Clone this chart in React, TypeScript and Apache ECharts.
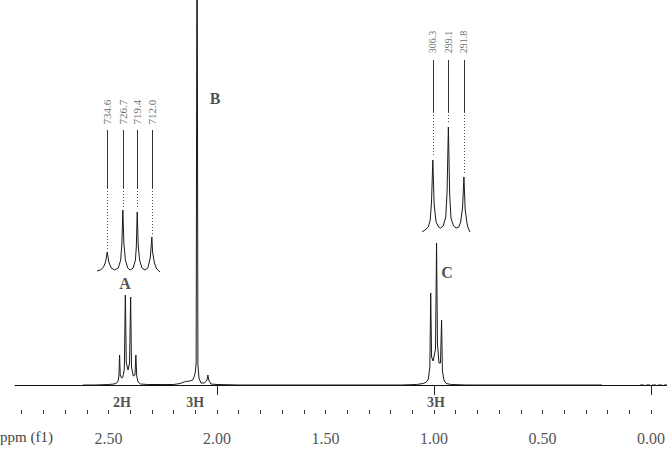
import { useEffect, useRef } from "react";
import * as echarts from "echarts";

// Main 1H spectrum trace: [ppm, intensity]
const spectrum: [number, number][] = [
  [2.618, 0], [2.56, 0], [2.5, 0.5], [2.475, 1], [2.462, 2], [2.456, 4], [2.452, 9],
  [2.449, 30], [2.446, 10], [2.44, 7], [2.434, 8], [2.427, 16], [2.4225, 90], [2.418, 22],
  [2.41, 15], [2.403, 22], [2.398, 88], [2.394, 18], [2.386, 9], [2.378, 10], [2.374, 30],
  [2.37, 9], [2.364, 3], [2.352, 1], [2.32, 0.5], [2.25, 0.5], [2.2, 0.5], [2.17, 1.5],
  [2.145, 3.5], [2.125, 4], [2.112, 5], [2.104, 9], [2.1, 13], [2.096, 22], [2.092, 520],
  [2.088, 20], [2.083, 7], [2.074, 2], [2.058, 2], [2.046, 5], [2.042, 10], [2.038, 5],
  [2.028, 1], [2.0, 0.5], [1.9, 0], [1.5, 0], [1.15, 0], [1.08, 0.5], [1.05, 1.5],
  [1.035, 3], [1.026, 6], [1.019, 18], [1.015, 92], [1.011, 28], [1.004, 24], [0.993, 36],
  [0.988, 142], [0.984, 42], [0.977, 22], [0.97, 22], [0.965, 65], [0.961, 14], [0.954, 5],
  [0.944, 1.5], [0.92, 0.5], [0.85, 0], [0.226, 0],
];
const spectrumTail: [number, number][] = [[0.05, 0], [-0.074, 0]];

// Expanded multiplet A (quartet)
const insetA: [number, number][] = [
  [2.466, 1], [2.46, 2], [2.455, 5], [2.4515, 10], [2.4487, 20], [2.446, 10], [2.442, 4],
  [2.436, 2], [2.43, 4], [2.426, 12], [2.424, 28], [2.4223, 62], [2.4205, 28], [2.418, 12],
  [2.414, 4], [2.41, 2], [2.405, 4], [2.401, 12], [2.3995, 26], [2.398, 60], [2.3963, 26],
  [2.394, 12], [2.39, 4], [2.385, 2], [2.38, 4], [2.376, 14], [2.3745, 25], [2.3733, 35],
  [2.372, 20], [2.369, 9], [2.365, 3], [2.3595, 0],
];
const insetAPeaks = [2.4487, 2.4223, 2.398, 2.3733];
const insetAHeights = [20, 62, 60, 35];
const insetALabels = ["734.6", "726.7", "719.4", "712.0"];

// Expanded multiplet C (triplet)
const insetC: [number, number][] = [
  [1.0377, 0], [1.033, 2], [1.028, 5], [1.025, 12], [1.023, 30], [1.021, 72], [1.019, 28],
  [1.016, 10], [1.012, 5], [1.009, 4], [1.005, 6], [1.001, 15], [0.999, 40], [0.997, 105],
  [0.995, 38], [0.993, 14], [0.989, 6], [0.985, 4], [0.981, 5], [0.978, 10], [0.975, 25],
  [0.973, 55], [0.971, 22], [0.968, 8], [0.9665, 4], [0.9636, 0],
];
const insetCPeaks = [1.021, 0.997, 0.973];
const insetCHeights = [72, 105, 55];
const insetCLabels = ["306.3", "299.1", "291.8"];

const labelTicks = [0, 0.5, 1, 1.5, 2, 2.5];
const longTicks = [0, 1, 2];
const shortTicks = [
  0, 0.1, 0.2, 0.3, 0.4, 0.5, 0.6, 0.7, 0.8, 0.9, 1, 1.1, 1.2, 1.3, 1.4, 1.5, 1.6, 1.7,
  1.8, 1.9, 2, 2.1, 2.2, 2.3, 2.4, 2.5, 2.6, 2.7, 2.8, 2.9,
];

const integralPpm = [2.438, 2.101, 0.991];
const integralText = ["2H", "3H", "3H"];

const letterPpm = [2.424, 2.009, 0.94];
const letterY = [102, 287, 113];
const letterText = ["A", "B", "C"];

const SERIF = "'Liberation Serif', 'DejaVu Serif', serif";

export default function App() {
  const ref = useRef<HTMLDivElement>(null);
  useEffect(() => {
    if (!ref.current) return;
    const chart = echarts.init(ref.current, undefined, { renderer: "svg" });
    const lineCol = "#1a1a1a";
    const option: any = {
      animation: false,
      backgroundColor: "#ffffff",
      grid: [
        { left: 15, right: 0, top: 0, bottom: 48, containLabel: false, outerBoundsMode: "none" },
        { left: 97, top: 95, width: 63, height: 177, containLabel: false, outerBoundsMode: "none" },
        { left: 422, top: 28, width: 48, height: 204, containLabel: false, outerBoundsMode: "none" },
      ],
      xAxis: [
        {
          type: "value", gridIndex: 0, min: -0.074, max: 2.931, inverse: true, position: "bottom",
          splitLine: { show: false },
          axisLine: { show: true, lineStyle: { color: "#111", width: 1 } },
          axisTick: { show: true, customValues: longTicks, length: 10, lineStyle: { color: "#222" } },
          axisLabel: {
            show: true, customValues: labelTicks, margin: 20, hideOverlap: false,
            formatter: (v: number) => v.toFixed(2),
            fontFamily: SERIF, fontSize: 16, color: "#555",
          },
        },
        {
          type: "value", gridIndex: 0, min: -0.074, max: 2.931, inverse: true, position: "bottom",
          splitLine: { show: false },
          axisLine: { show: false },
          axisTick: { show: true, customValues: shortTicks, length: 4, lineStyle: { color: "#333" } },
          axisLabel: { show: false },
        },
        { type: "value", gridIndex: 1, min: 2.3595, max: 2.466, inverse: true, show: false },
        { type: "value", gridIndex: 2, min: 0.9636, max: 1.0377, inverse: true, show: false },
      ],
      yAxis: [
        { type: "value", gridIndex: 0, min: -25, max: 385, show: false },
        { type: "value", gridIndex: 1, min: 0, max: 177, show: false },
        { type: "value", gridIndex: 2, min: 0, max: 204, show: false },
      ],
      series: [
        {
          type: "line", xAxisIndex: 0, yAxisIndex: 0, data: spectrum, symbol: "none",
          lineStyle: { color: lineCol, width: 1 }, clip: true,
        },
        {
          type: "line", xAxisIndex: 0, yAxisIndex: 0, data: spectrumTail, symbol: "none",
          lineStyle: { color: lineCol, width: 1, type: "dashed" },
        },
        {
          type: "line", xAxisIndex: 2, yAxisIndex: 1, data: insetA, symbol: "none",
          lineStyle: { color: lineCol, width: 1 },
        },
        {
          type: "line", xAxisIndex: 3, yAxisIndex: 2, data: insetC, symbol: "none",
          lineStyle: { color: lineCol, width: 1 },
        },
        {
          type: "lines", coordinateSystem: "cartesian2d", xAxisIndex: 2, yAxisIndex: 1,
          lineStyle: { color: "#333", width: 1, opacity: 1 },
          data: insetAPeaks.map((p) => ({ coords: [[p, 142], [p, 84]] })),
        },
        {
          type: "lines", coordinateSystem: "cartesian2d", xAxisIndex: 2, yAxisIndex: 1,
          lineStyle: { color: "#555", width: 1, type: [1, 2], opacity: 1 },
          data: insetAPeaks.map((p, i) => ({ coords: [[p, 84], [p, insetAHeights[i] + 3]] })),
        },
        {
          type: "lines", coordinateSystem: "cartesian2d", xAxisIndex: 3, yAxisIndex: 2,
          lineStyle: { color: "#333", width: 1, opacity: 1 },
          data: insetCPeaks.map((p) => ({ coords: [[p, 172], [p, 120]] })),
        },
        {
          type: "lines", coordinateSystem: "cartesian2d", xAxisIndex: 3, yAxisIndex: 2,
          lineStyle: { color: "#555", width: 1, type: [1, 2], opacity: 1 },
          data: insetCPeaks.map((p, i) => ({ coords: [[p, 120], [p, insetCHeights[i] + 3]] })),
        },
        {
          type: "scatter", xAxisIndex: 2, yAxisIndex: 1, symbolSize: 1,
          itemStyle: { color: "rgba(0,0,0,0)" },
          label: {
            show: true, formatter: "{b}", rotate: 90, position: "inside",
            fontFamily: SERIF, fontSize: 11, color: "#444",
          },
          data: insetAPeaks.map((p, i) => ({ value: [p, 160], name: insetALabels[i] })),
        },
        {
          type: "scatter", xAxisIndex: 3, yAxisIndex: 2, symbolSize: 1,
          itemStyle: { color: "rgba(0,0,0,0)" },
          label: {
            show: true, formatter: "{b}", rotate: 90, position: "inside",
            fontFamily: SERIF, fontSize: 10, color: "#444",
          },
          data: insetCPeaks.map((p, i) => ({ value: [p, 190], name: insetCLabels[i] })),
        },
        {
          type: "scatter", xAxisIndex: 0, yAxisIndex: 0, symbolSize: 1,
          itemStyle: { color: "rgba(0,0,0,0)" },
          label: {
            show: true, formatter: "{b}", position: "inside",
            fontFamily: SERIF, fontSize: 14, fontWeight: "bold", color: "#222",
          },
          data: integralPpm.map((p, i) => ({ value: [p, -17], name: integralText[i] })),
        },
        {
          type: "scatter", xAxisIndex: 0, yAxisIndex: 0, symbolSize: 1,
          itemStyle: { color: "rgba(0,0,0,0)" },
          label: {
            show: true, formatter: "{b}", position: "inside",
            fontFamily: SERIF, fontSize: 16, fontWeight: "bold", color: "#222",
          },
          data: letterPpm.map((p, i) => ({ value: [p, letterY[i]], name: letterText[i] })),
        },
      ],
      graphic: [
        {
          type: "text", x: 0, y: 437,
          style: {
            text: "ppm (f1)", fontFamily: SERIF, fontSize: 15, fill: "#444",
            verticalAlign: "middle", align: "left",
          },
        },
      ],
    };
    chart.setOption(option);
    return () => chart.dispose();
  }, []);
  return (
    <div
      ref={ref}
      style={{ position: "fixed", left: 0, top: 0, width: 667, height: 458 }}
    />
  );
}
